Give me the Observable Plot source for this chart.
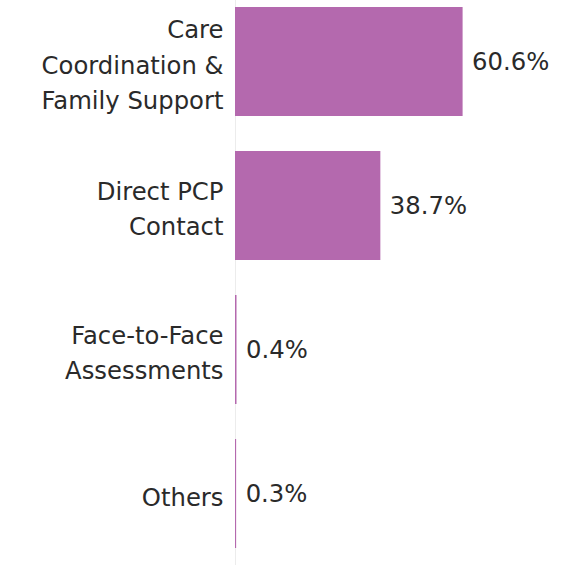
<!DOCTYPE html>
<html>
<head>
<meta charset="utf-8">
<script src="https://cdn.jsdelivr.net/npm/d3@7"></script>
<script src="https://cdn.jsdelivr.net/npm/@observablehq/plot@0.6"></script>
<style>
  html, body { margin: 0; padding: 0; background: #fff; }
  #chart svg { display: block; }
</style>
</head>
<body>
<div id="chart"></div>
<script>
const categories = ["Care Coordination & Family Support", "Direct PCP Contact", "Face-to-Face Assessments", "Others"];
const categoryLabels = ["Care\nCoordination &\nFamily Support", "Direct PCP\nContact", "Face-to-Face\nAssessments", "Others"];
const values = [60.6, 38.7, 0.4, 0.3];
const valueLabels = ["60.6%", "38.7%", "0.4%", "0.3%"];

const data = categories.map((c, i) => ({category: c, label: categoryLabels[i], value: values[i], valueLabel: valueLabels[i]}));

const barColor = "#b469ae";
const textColor = "#2a2a2a";
const font = "'DejaVu Sans', sans-serif";

const chart = Plot.plot({
  width: 578,
  height: 565,
  marginLeft: 235,
  marginRight: 11,
  marginTop: 0,
  marginBottom: 0,
  style: {fontFamily: font, background: "#fff"},
  x: {domain: [0, 88.4], axis: null},
  y: {domain: categories, range: [-10.5, 565.5], paddingInner: 0.243, paddingOuter: 0.1215, axis: null},
  marks: [
    Plot.ruleX([0], {stroke: "#ececec", strokeWidth: 1, y1: null, y2: null}),
    Plot.ruleY([0], {frameAnchor: "bottom", stroke: "#ececec", strokeWidth: 2, dy: -1}),
    Plot.barX(data, {y: "category", x: "value", fill: barColor}),
    Plot.text(data, {y: "category", x: "value", text: "valueLabel", textAnchor: "start", dx: 9, fontSize: 24.3, fill: textColor}),
    Plot.text(data, {y: "category", x: 0, text: "label", textAnchor: "end", dx: -12, fontSize: 24.3, lineHeight: 1.48, fill: textColor})
  ]
});
document.getElementById("chart").appendChild(chart);
</script>
</body>
</html>
